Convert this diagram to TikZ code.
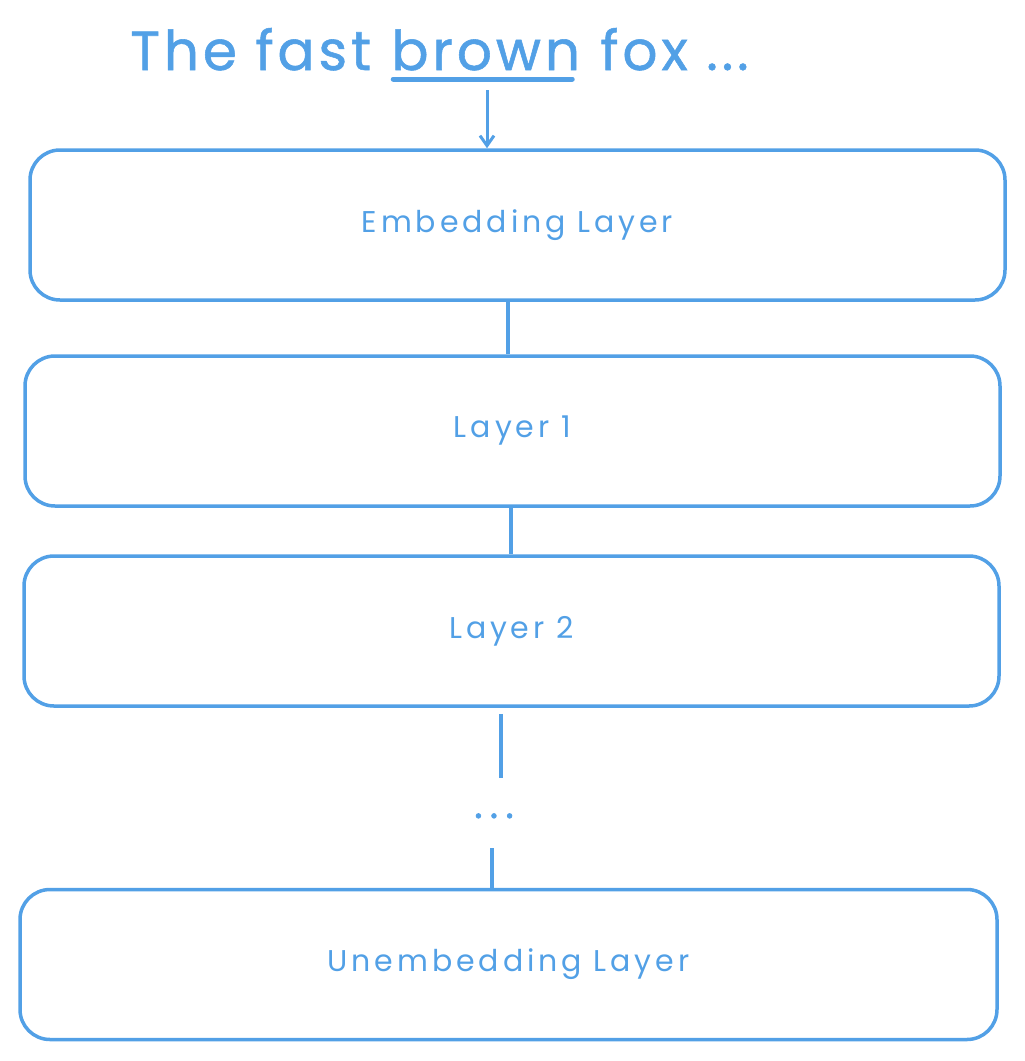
\documentclass[tikz,border=0pt]{standalone}
\usepackage{fontspec}
\setmainfont{Poppins}
\usetikzlibrary{arrows.meta,calc}
\definecolor{sk}{RGB}{82,160,230}
\newfontfamily\lblfont[LetterSpace=13]{Poppins}
\newfontfamily\ttlfont[LetterSpace=7,FakeBold=1]{Poppins}
\newfontfamily\dotfont[LetterSpace=20,FakeBold=2]{Poppins}
\begin{document}
\begin{tikzpicture}[x=1pt,y=-1pt,
  box/.style={draw=sk, line width=3.5pt, rounded corners=30pt, minimum height=150pt, inner sep=0pt, text=sk, font=\lblfont\fontsize{30}{34}\selectfont},
  conn/.style={draw=sk, line width=3.5pt},
  ttl/.style={text=sk, font=\ttlfont\fontsize{55}{62}\selectfont, inner sep=0pt}]
\useasboundingbox (0,0) rectangle (1025,1061);
\node[box, minimum width=975pt] (emb) at (517.5,225) {Embedding Layer};
\node[box, minimum width=975pt] (l1) at (512.5,431) {Layer 1};
\node[box, minimum width=975pt] (l2) at (511.5,631) {Layer 2};
\node[text=sk, font=\dotfont\fontsize{38}{40}\selectfont, inner sep=0pt, anchor=base] (dots) at (494,818) {...};
\node[box, minimum width=977pt] (unemb) at (508.5,964.5) {Unembedding Layer};
% title
\node[ttl, anchor=base west] (t1) at (130,70) {The fast};
\node[ttl, anchor=base west] (t2) at ($(t1.base east)+(20,0)$) {brown};
\node[ttl, anchor=base west] (t3) at ($(t2.base east)+(20,0)$) {fox ...};
\draw[conn, line width=5pt, line cap=round] ($(t2.base west)+(2,9)$) -- ($(t2.base east)+(-8,9)$);
\coordinate (astart) at (487,90);
\draw[conn, line width=3pt, -{Straight Barb[length=10pt,width=14pt]}] (astart) -- (astart |- emb.north);
% connectors
\coordinate (dtop) at (501,778);
\coordinate (dbot) at (492,848);
\draw[conn] ($(l2.south -| dtop)+(0,6)$) -- (dtop);
\draw[conn] (dbot) -- (unemb.north -| dbot);
\draw[conn] (emb.south -| 508,0) -- (l1.north -| 508,0);
\draw[conn] (l1.south -| 511,0) -- (l2.north -| 511,0);
\end{tikzpicture}
\end{document}
